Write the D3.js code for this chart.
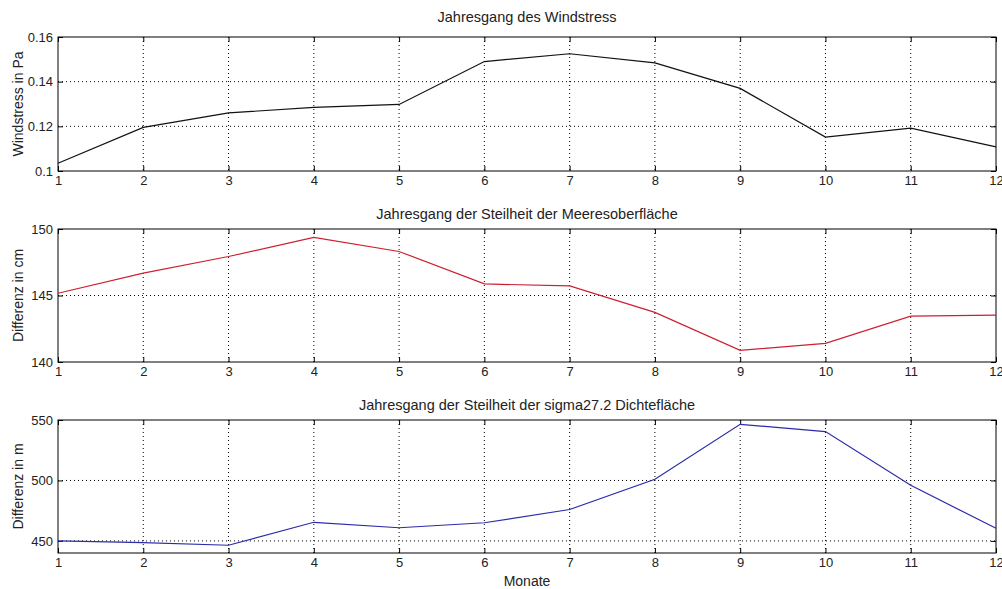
<!DOCTYPE html>
<html>
<head>
<meta charset="utf-8">
<script src="https://cdn.jsdelivr.net/npm/d3@7"></script>
<style>
  body { margin: 0; background: #fff; }
  svg text { font-family: "Liberation Sans", Arial, sans-serif; fill: #222; }
  .grid line { stroke: #000; stroke-dasharray: 1 3; stroke-width: 1; }
</style>
</head>
<body>
<div id="chart"></div>
<script>
// months on the x axis
const months = [1, 2, 3, 4, 5, 6, 7, 8, 9, 10, 11, 12];

// values
const windstress = [0.1035, 0.1195, 0.126, 0.1285, 0.1298, 0.149, 0.1525, 0.1484, 0.137, 0.1152, 0.1192, 0.1108];
const seaSurface = [145.17, 146.68, 147.93, 149.37, 148.31, 145.87, 145.72, 143.73, 140.88, 141.4, 143.45, 143.53];
const densitySurface = [450, 448.6, 446.4, 465.4, 460.9, 465, 476, 501, 546.4, 540.4, 496, 460.4];

// tick labels
const windTicks = [0.1, 0.12, 0.14, 0.16];
const seaTicks = [140, 145, 150];
const densityTicks = [450, 500, 550];

const panels = [
  { title: 'Jahresgang des Windstress', ylabel: 'Windstress in Pa', values: windstress,
    domain: [0.1, 0.16], ticks: windTicks, fmt: d => String(+d.toFixed(2)), color: '#111',
    top: 37, bottom: 171, titleGap: 15 },
  { title: 'Jahresgang der Steilheit der Meeresoberfläche', ylabel: 'Differenz in cm', values: seaSurface,
    domain: [140, 150], ticks: seaTicks, fmt: d => d, color: '#cc2030',
    top: 229, bottom: 362, titleGap: 10 },
  { title: 'Jahresgang der Steilheit der sigma27.2 Dichtefläche', ylabel: 'Differenz in m', values: densitySurface,
    domain: [440, 550], ticks: densityTicks, fmt: d => d, color: '#2b2bab',
    top: 420, bottom: 553, titleGap: 10 }
];

const width = 1002, height = 589;
const left = 58, right = 996;

const svg = d3.select('#chart').append('svg')
  .attr('width', width)
  .attr('height', height);

const x = d3.scaleLinear().domain([1, 12]).range([left, right]);

panels.forEach((p, i) => {
  const y = d3.scaleLinear().domain(p.domain).range([p.bottom, p.top]);
  const g = svg.append('g').attr('class', 'panel' + i);
  const tickLen = 5;

  // dotted grid
  const grid = g.append('g').attr('class', 'grid');
  grid.selectAll('.gx')
    .data(months.slice(1, -1))
    .join('line')
    .attr('x1', d => x(d)).attr('x2', d => x(d))
    .attr('y1', p.top).attr('y2', p.bottom);
  grid.selectAll('.gy')
    .data(p.ticks.filter(t => y(t) > p.top + 1 && y(t) < p.bottom - 1))
    .join('line')
    .attr('x1', left).attr('x2', right)
    .attr('y1', d => y(d)).attr('y2', d => y(d));

  // box
  g.append('rect')
    .attr('x', left).attr('y', p.top)
    .attr('width', right - left).attr('height', p.bottom - p.top)
    .attr('fill', 'none').attr('stroke', '#000');

  // inward ticks on all four sides
  const bottomAxis = g.append('g')
    .attr('transform', `translate(0,${p.bottom})`)
    .call(d3.axisBottom(x).tickValues(months).tickSizeInner(-tickLen).tickSizeOuter(0).tickPadding(5));
  const topAxis = g.append('g')
    .attr('transform', `translate(0,${p.top})`)
    .call(d3.axisTop(x).tickValues(months).tickSizeInner(-tickLen).tickSizeOuter(0).tickFormat(''));
  const leftAxis = g.append('g')
    .attr('transform', `translate(${left},0)`)
    .call(d3.axisLeft(y).tickValues(p.ticks).tickSizeInner(-tickLen).tickSizeOuter(0).tickPadding(5).tickFormat(p.fmt));
  const rightAxis = g.append('g')
    .attr('transform', `translate(${right},0)`)
    .call(d3.axisRight(y).tickValues(p.ticks).tickSizeInner(-tickLen).tickSizeOuter(0).tickFormat(''));

  [bottomAxis, topAxis, leftAxis, rightAxis].forEach(a => {
    a.select('.domain').remove();
    a.selectAll('line').attr('stroke', '#000');
    a.selectAll('text').attr('font-size', 13).attr('fill', '#2a2a2a')
      .attr('font-family', '"Liberation Sans", Arial, sans-serif');
  });

  // data line
  const line = d3.line()
    .x((d, j) => x(months[j]))
    .y(d => y(d));
  g.append('path')
    .datum(p.values)
    .attr('fill', 'none')
    .attr('stroke', p.color)
    .attr('stroke-width', 1.2)
    .attr('d', line);

  // title
  g.append('text')
    .attr('x', (left + right) / 2)
    .attr('y', p.top - p.titleGap)
    .attr('text-anchor', 'middle')
    .attr('font-size', 14.5)
    .text(p.title);

  // y label
  g.append('text')
    .attr('transform', `translate(23,${(p.top + p.bottom) / 2}) rotate(-90)`)
    .attr('text-anchor', 'middle')
    .attr('font-size', 14)
    .text(p.ylabel);
});

svg.append('text')
  .attr('x', (left + right) / 2)
  .attr('y', 586)
  .attr('text-anchor', 'middle')
  .attr('font-size', 14)
  .text('Monate');
</script>
</body>
</html>
